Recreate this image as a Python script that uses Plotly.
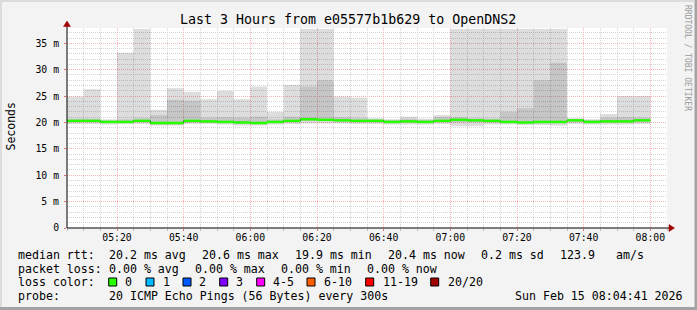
import plotly.graph_objects as go
import pandas as pd

# ---------------- data ----------------
bar_start = pd.date_range("2026-02-15 05:05:00", periods=35, freq="5min")

median_rtt = [20.3, 20.3, 20.1, 20.1, 20.3, 19.9, 19.9, 20.3, 20.2, 20.1, 20.0, 19.9,
              20.1, 20.3, 20.6, 20.5, 20.4, 20.3, 20.3, 20.1, 20.2, 20.1, 20.3, 20.5,
              20.4, 20.3, 20.1, 20.0, 20.1, 20.1, 20.4, 20.1, 20.2, 20.2, 20.4]
smoke_max = [24.9, 26.3, 20.6, 33.2, 37.7, 22.4, 26.5, 25.8, 24.4, 26.0, 24.4, 26.8,
             22.0, 27.1, 37.7, 37.7, 24.9, 24.7, 20.8, 20.6, 21.1, 20.7, 21.4, 37.7,
             37.7, 37.7, 37.7, 37.7, 37.7, 37.7, 20.8, 20.6, 21.6, 25.0, 25.0]
smoke_mid_hi = [20.7, 20.7, 20.4, 20.6, 20.8, 21.4, 24.3, 24.1, 20.9, 21.0, 20.9, 21.1,
                20.6, 21.1, 26.8, 28.0, 21.0, 20.8, 20.6, 20.5, 20.7, 20.5, 21.0, 21.0,
                20.8, 20.7, 22.0, 22.7, 28.0, 31.3, 20.6, 20.5, 20.9, 21.0, 20.9]
smoke_mid_lo = [20.1, 20.1, 19.9, 19.9, 20.1, 19.6, 19.6, 20.0, 20.0, 19.9, 19.7, 19.7,
                19.9, 20.1, 20.3, 20.3, 20.2, 20.1, 20.1, 19.9, 20.0, 19.9, 20.1, 20.0,
                20.0, 20.0, 19.9, 19.8, 19.8, 19.8, 20.1, 19.9, 20.0, 20.0, 20.1]
smoke_min = [19.7, 19.7, 19.6, 19.7, 19.7, 19.4, 19.4, 19.7, 19.7, 19.6, 19.4, 19.4,
             19.6, 19.7, 19.8, 19.8, 19.8, 19.7, 19.7, 19.6, 19.6, 19.6, 19.7, 19.3,
             19.3, 19.6, 19.6, 19.5, 19.5, 19.4, 19.7, 19.6, 19.6, 19.6, 19.7]

y_tick_vals = [0, 5, 10, 15, 20, 25, 30, 35]
y_tick_text = ["0", "5 m", "10 m", "15 m", "20 m", "25 m", "30 m", "35 m"]

title_text = "Last 3 Hours from e05577b1b629 to OpenDNS2"
row1 = ["median rtt:", "20.2 ms avg", "20.6 ms max", "19.9 ms min", "20.4 ms now",
        "0.2 ms sd", "123.9", "am/s"]
row2 = ["packet loss:", "0.00 % avg", "0.00 % max", "0.00 % min", "0.00 % now"]
row3_label = "loss color:"
loss_labels = ["0", "1", "2", "3", "4-5", "6-10", "11-19", "20/20"]
loss_colors = ["#26ff00", "#00b8ff", "#0059ff", "#7e00ff", "#ff00ff", "#ff5e00",
               "#ff0000", "#a10000"]
row4 = ["probe:", "20 ICMP Echo Pings (56 Bytes) every 300s", "Sun Feb 15 08:04:41 2026"]

# ---------------- geometry ----------------
W, H = 697, 310
L, R, T, B = 67, 30, 28, 82
PW = W - L - R
PH = H - T - B


def px(x):
    return (x - L) / PW


def py(y):
    return (H - B - y) / PH


STEP = pd.Timedelta(minutes=5)
centers = bar_start + STEP / 2
bar_end = bar_start + STEP

fig = go.Figure()

# smoke: outer band
fig.add_trace(go.Bar(
    x=centers, base=smoke_min,
    y=[a - b for a, b in zip(smoke_max, smoke_min)],
    width=300000, marker=dict(color="rgba(0,0,0,0.135)", line=dict(width=0)),
    hoverinfo="skip", showlegend=False))
# smoke: inner band
fig.add_trace(go.Bar(
    x=centers, base=smoke_mid_lo,
    y=[a - b for a, b in zip(smoke_mid_hi, smoke_mid_lo)],
    width=300000, marker=dict(color="rgba(0,0,0,0.10)", line=dict(width=0)),
    hoverinfo="skip", showlegend=False))

# thin dark step line (transitions)
fig.add_trace(go.Scatter(
    x=list(bar_start) + [bar_end[-1]], y=median_rtt + [median_rtt[-1]],
    mode="lines", line=dict(color="#202020", width=1, shape="hv"),
    hoverinfo="skip", showlegend=False))

# green median segments
gx, gy = [], []
for s, e, m in zip(bar_start, bar_end, median_rtt):
    gx += [s, e, None]
    gy += [m, m, None]
fig.add_trace(go.Scatter(
    x=gx, y=gy, mode="lines", line=dict(color="#26ff00", width=2.5),
    hoverinfo="skip", showlegend=False, connectgaps=False))

MONO = "DejaVu Sans Mono"
MAJOR_GRID = "#f4b4b4"
MINOR_GRID = "#d4d4d4"

fig.update_layout(
    width=W, height=H,
    margin=dict(l=L, r=R, t=T, b=B, pad=0),
    paper_bgcolor="#f3f3f3", plot_bgcolor="#ffffff",
    barmode="overlay", showlegend=False,
    font=dict(family=MONO, color="#000000"),
    xaxis=dict(
        type="date",
        range=["2026-02-15 05:05:00", "2026-02-15 08:05:00"],
        tick0="2026-02-15 05:00:00", dtick=1200000, tickformat="%H:%M",
        showgrid=True, gridcolor=MAJOR_GRID, griddash="1px,1px", gridwidth=1,
        ticks="outside", ticklen=2, tickcolor="#e07070",
        ticklabelstandoff=-2,
        tickfont=dict(family=MONO, size=9.8, color="#000000"),
        minor=dict(dtick=300000, tick0="2026-02-15 05:00:00", showgrid=True,
                   gridcolor=MINOR_GRID, griddash="1px,1px", gridwidth=1,
                   ticks="outside", ticklen=2, tickcolor="#bbbbbb"),
        zeroline=False, showline=False, fixedrange=True,
    ),
    yaxis=dict(
        range=[0, 37.9],
        tickvals=y_tick_vals, ticktext=y_tick_text,
        showgrid=True, gridcolor=MAJOR_GRID, griddash="1px,1px", gridwidth=1,
        ticks="outside", ticklen=2, tickcolor="#e07070",
        tickfont=dict(family=MONO, size=9.8, color="#000000"),
        ticklabelstandoff=3,
        minor=dict(dtick=1, showgrid=True, gridcolor=MINOR_GRID,
                   griddash="1px,1px", gridwidth=1),
        zeroline=False, showline=False, fixedrange=True,
    ),
)

shapes = []
ARROW = "#a00000"
# axis lines
shapes.append(dict(type="line", xref="paper", yref="paper",
                   x0=px(67), y0=py(228), x1=px(670), y1=py(228),
                   line=dict(color="#000000", width=1)))
shapes.append(dict(type="line", xref="paper", yref="paper",
                   x0=px(67), y0=py(228), x1=px(67), y1=py(25),
                   line=dict(color="#000000", width=1)))
# arrows
shapes.append(dict(type="path", xref="paper", yref="paper",
                   path=f"M {px(669)} {py(224.5)} L {px(674.5)} {py(228)} L {px(669)} {py(231.5)} Z",
                   fillcolor=ARROW, line=dict(color=ARROW, width=0.5)))
shapes.append(dict(type="path", xref="paper", yref="paper",
                   path=f"M {px(63.5)} {py(26.5)} L {px(67)} {py(21)} L {px(70.5)} {py(26.5)} Z",
                   fillcolor=ARROW, line=dict(color=ARROW, width=0.5)))

# frame
shapes.append(dict(type="rect", xref="paper", yref="paper",
                   x0=px(0), x1=px(697), y0=py(307), y1=py(310),
                   fillcolor="#a3a3a3", line=dict(width=0)))
shapes.append(dict(type="rect", xref="paper", yref="paper",
                   x0=px(694.5), x1=px(697), y0=py(0), y1=py(310),
                   fillcolor="#a3a3a3", line=dict(width=0)))
shapes.append(dict(type="rect", xref="paper", yref="paper",
                   x0=px(0), x1=px(694.5), y0=py(0), y1=py(2),
                   fillcolor="#dcdcdc", line=dict(width=0)))
shapes.append(dict(type="rect", xref="paper", yref="paper",
                   x0=px(0), x1=px(2), y0=py(0), y1=py(307),
                   fillcolor="#dcdcdc", line=dict(width=0)))

# loss color squares
sq_left = [108.7, 146, 183, 219.7, 256.7, 307, 365.7, 430.7]
for xl, c in zip(sq_left, loss_colors):
    shapes.append(dict(type="rect", xref="paper", yref="paper",
                       x0=px(xl), x1=px(xl + 8), y0=py(278), y1=py(286),
                       fillcolor=c, line=dict(color="#000000", width=1)))

fig.update_layout(shapes=shapes)

ann = []


def text(t, x, y, size=11.6, anchor="left", color="#000000", angle=0):
    ann.append(dict(text=t, xref="paper", yref="paper", x=px(x), y=py(y),
                    xanchor=anchor, yanchor="middle", showarrow=False,
                    textangle=angle,
                    font=dict(family=MONO, size=size, color=color)))


text(title_text, 347.5, 19, size=13.3, anchor="center")
text("Seconds", 10.5, 127, size=11.5, anchor="center", angle=-90)
text("RRDTOOL / TOBI OETIKER", 688, 58, size=8, anchor="center", color="#9a9a9a", angle=90)

r1x = [16, 107.3, 200, 293.3, 386, 479.3, 558.3, 614.3]
for t, x in zip(row1, r1x):
    text(t.replace(" ", "\u00a0"), x, 255)
r2x = [16, 107.3, 193.3, 279.3, 365]
for t, x in zip(row2, r2x):
    text(t.replace(" ", "\u00a0"), x, 268.5)
text(row3_label.replace(" ", "\u00a0"), 16, 282)
lab_x = [123.3, 160.7, 197.3, 234, 271, 321.7, 380.7, 445.7]
for t, x in zip(loss_labels, lab_x):
    text(t, x, 282)
r4x = [16, 107.3, 513.3]
for t, x in zip(row4, r4x):
    text(t.replace(" ", "\u00a0"), x, 296)

fig.update_layout(annotations=ann)

fig.write_html("out.html")
